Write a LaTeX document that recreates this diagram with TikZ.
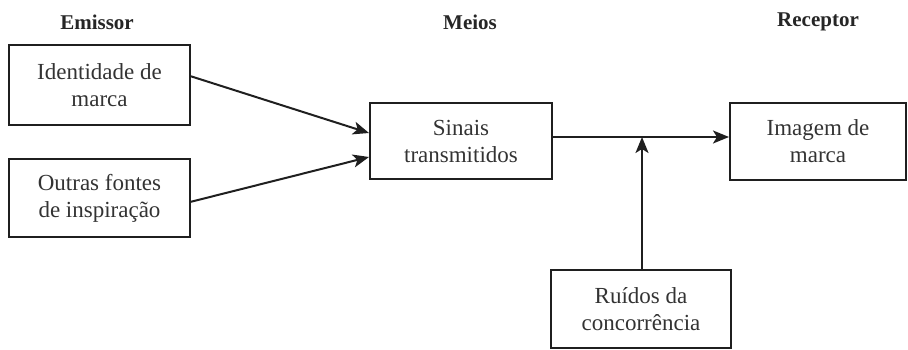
\documentclass[tikz,border=0pt]{standalone}
\usepackage{fontspec}
\setmainfont{LiberationSerif}[Extension=.ttf,UprightFont=*-Regular,BoldFont=*-Bold,ItalicFont=*-Italic,BoldItalicFont=*-BoldItalic]
\usetikzlibrary{arrows.meta}
\begin{document}
\begin{tikzpicture}[x=1pt,y=-1pt,
  box/.style={draw=black!88,line width=2pt,inner sep=0pt,align=center,text=black!80,
    font=\fontsize{23}{27}\selectfont},
  head/.style={font=\bfseries\fontsize{21}{25}\selectfont,text=black!85},
  arr/.style={line width=2pt,draw=black!88,-{Stealth[length=16pt,width=13pt,inset=4pt]}}]
\useasboundingbox (0,0) rectangle (908,350);
\node[head] (hE) at (97,22) {Emissor};
\node[head] (hM) at (470,22) {Meios};
\node[head] (hR) at (818,22) {Receptor};
\node[box,minimum width=181pt,minimum height=80pt] (id) at (99.5,85) {Identidade de\\marca};
\node[box,minimum width=181pt,minimum height=78pt] (of) at (99.5,198) {Outras fontes\\de inspiração};
\node[box,minimum width=182pt,minimum height=76pt] (si) at (461,141) {Sinais\\transmitidos};
\node[box,minimum width=176pt,minimum height=77pt] (im) at (818,141.5) {Imagem de\\marca};
\node[box,minimum width=180pt,minimum height=78pt] (ru) at (641,309) {Ruídos da\\concorrência};
\coordinate (j) at (642,137);
\draw[arr] (190,76) -- (si.west |- 0,133);
\draw[arr] (190,202) -- (si.west |- 0,157);
\draw[arr] (si.east |- j) -- (im.west |- j);
\draw[arr] (ru.north -| j) -- (j);
\end{tikzpicture}
\end{document}
